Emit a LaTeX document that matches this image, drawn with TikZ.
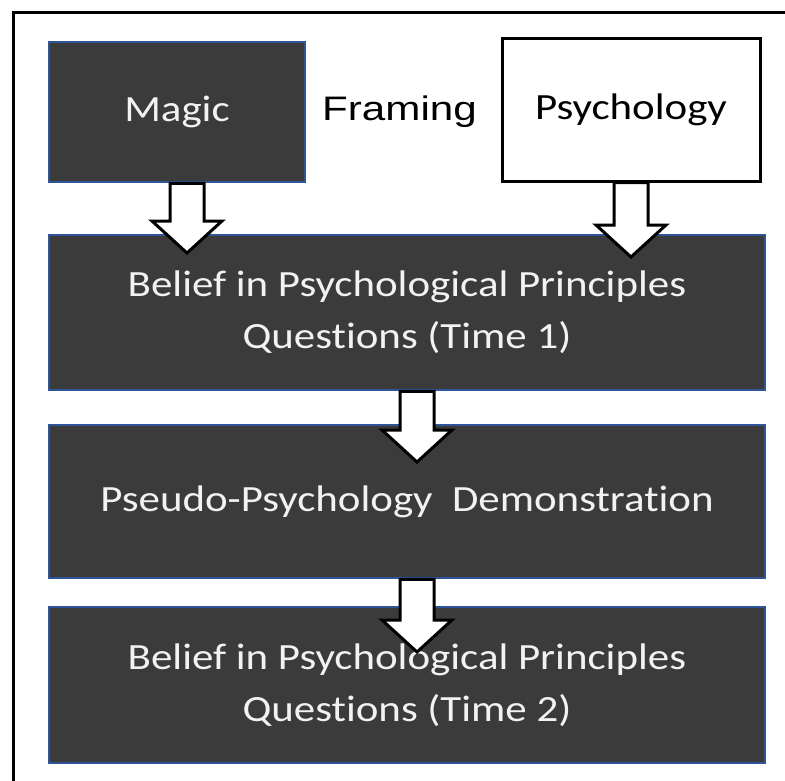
\documentclass[tikz,border=0pt]{standalone}
\usepackage{fontspec}
\usetikzlibrary{calc}
\setmainfont{Carlito}[Ligatures=NoCommon]
\newfontfamily\boxfont{Carlito}[FakeStretch=1.16,Ligatures=NoCommon]
\newfontfamily\labelfont{Liberation Sans}[FakeStretch=1.24]
\definecolor{boxfill}{HTML}{3B3B3B}
\definecolor{boxline}{HTML}{2F5597}
\definecolor{txt}{HTML}{F2F2F2}
\begin{document}
\begin{tikzpicture}[x=1pt,y=-1pt,
  darkbox/.style={draw=boxline,line width=2.5pt,fill=boxfill,text=txt,
    inner sep=0pt,align=center,font=\boxfont\fontsize{37}{52}\selectfont},
  whitebox/.style={draw=black,line width=3pt,fill=white,text=black,
    inner sep=0pt,align=center,font=\boxfont\fontsize{37}{52}\selectfont},
  barrow/.style={draw=black,line width=3pt,fill=white,line join=miter}]
\useasboundingbox (0,0) rectangle (785,780);
\fill[white] (0,0) rectangle (785,780);
\draw[line width=3pt] (13,790) -- (13,12) -- (795,12);
% boxes
\node[darkbox,minimum width=256pt,minimum height=140pt] (magic) at (177,112) {Magic};
\node[whitebox,minimum width=258pt,minimum height=143pt] (psych) at (631,109.5) {Psychology};
\node[font=\labelfont\fontsize{34}{40}\selectfont,text=black,inner sep=0pt,anchor=base] (framing) at (399.5,120) {Framing};
\node[darkbox,minimum width=716pt,minimum height=155pt] (b1) at (407,312.5)
  {Belief in Psychological Principles\\Questions (Time 1)};
\node[darkbox,minimum width=716pt,minimum height=153pt] (b2) at (407,501.5)
  {Pseudo-Psychology~~Demonstration};
\node[darkbox,minimum width=716pt,minimum height=156pt] (b3) at (407,685)
  {Belief in Psychological Principles\\Questions (Time 2)};
% arrow anchor coordinates
\coordinate (m0) at ([xshift=10pt]magic.south);
\coordinate (m1) at (187,253);
\coordinate (p0) at (psych.south);
\coordinate (p1) at (631,257);
\coordinate (q0) at ([xshift=10pt]b1.south);
\coordinate (q1) at (417,462);
\coordinate (r0) at ([xshift=10pt]b2.south);
\coordinate (r1) at (417,652);
% block arrows: start, tip
\newcommand\blockarrow[2]{%
  \draw[barrow] let \p1=(#1), \p2=(#2) in
    (\x1-17pt,\y1) -- (\x1-17pt,\y2+32pt) -- (\x1-35pt,\y2+32pt) -- (\x2,\y2)
    -- (\x1+35pt,\y2+32pt) -- (\x1+17pt,\y2+32pt) -- (\x1+17pt,\y1) -- cycle;}
\blockarrow{m0}{m1}
\blockarrow{p0}{p1}
\blockarrow{q0}{q1}
\blockarrow{r0}{r1}
\end{tikzpicture}
\end{document}
